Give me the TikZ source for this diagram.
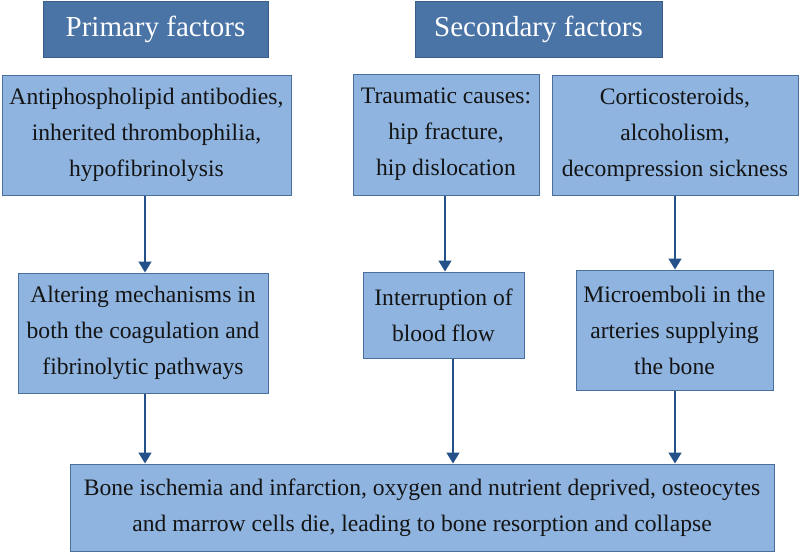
\documentclass[tikz,border=0pt]{standalone}
\usepackage{fontspec}
\setmainfont{Liberation Serif}
\usetikzlibrary{arrows.meta}
\definecolor{hdrfill}{HTML}{4A73A6}
\definecolor{hdrdraw}{HTML}{3B5D8A}
\definecolor{boxfill}{HTML}{8FB4E0}
\definecolor{boxdraw}{HTML}{4A6F9C}
\definecolor{arrcol}{HTML}{245189}
\tikzset{
  hdr/.style={draw=hdrdraw, fill=hdrfill, line width=1pt, text=white, inner sep=0pt,
    font=\fontsize{29}{34}\selectfont},
  cbox/.style={draw=boxdraw, fill=boxfill, line width=1pt, text=black!92, inner sep=0pt,
    align=center, font=\fontsize{23.6}{36}\selectfont},
  arr/.style={draw=arrcol, line width=1.6pt, -{Triangle[width=13pt,length=11pt]}}
}
\begin{document}
\begin{tikzpicture}[x=1pt,y=-1pt]
\useasboundingbox (0,0) rectangle (800,552);
% headers
\node[hdr, minimum width=225pt, minimum height=56pt] (P) at (155.5,29) {Primary factors};
\node[hdr, minimum width=247pt, minimum height=56pt] (S) at (538.5,29) {Secondary factors};
% top row
\node[cbox, minimum width=289pt, minimum height=120pt] (A) at (146.5,135)
  {Antiphospholipid antibodies,\\inherited thrombophilia,\\hypofibrinolysis};
\node[cbox, minimum width=186pt, minimum height=121pt] (B) at (446,134.5)
  {Traumatic causes:\\hip fracture,\\hip dislocation};
\node[cbox, minimum width=246pt, minimum height=120pt] (C) at (675,135)
  {Corticosteroids,\\alcoholism,\\decompression sickness};
% middle row
\node[cbox, minimum width=250pt, minimum height=120pt] (D) at (143,333)
  {Altering mechanisms in\\both the coagulation and\\fibrinolytic pathways};
\node[cbox, minimum width=161pt, minimum height=86pt] (E) at (443.5,315)
  {Interruption of\\blood flow};
\node[cbox, minimum width=197pt, minimum height=120pt] (F) at (674.5,330)
  {Microemboli in the\\arteries supplying\\the bone};
% bottom
\node[cbox, minimum width=704pt, minimum height=87pt] (G) at (422,507.5)
  {Bone ischemia and infarction, oxygen and nutrient deprived, osteocytes\\and marrow cells die, leading to bone resorption and collapse};
% arrows
\draw[arr] ([xshift=-1.5pt]A.south) -- ([xshift=-1.5pt]A.south |- D.north);
\draw[arr] ([xshift=-1pt]B.south) -- ([xshift=-1pt]B.south |- E.north);
\draw[arr] (C.south) -- (C.south |- F.north);
\draw[arr] ([xshift=2pt]D.south) -- ([xshift=2pt]D.south |- G.north);
\draw[arr] ([xshift=9.5pt]E.south) -- ([xshift=9.5pt]E.south |- G.north);
\draw[arr] ([xshift=0.5pt]F.south) -- ([xshift=0.5pt]F.south |- G.north);
\end{tikzpicture}
\end{document}
